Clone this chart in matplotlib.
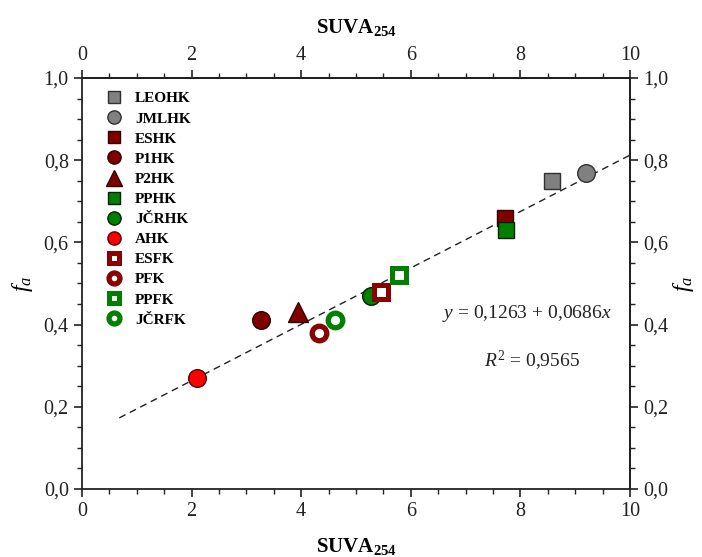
import matplotlib
matplotlib.use("Agg")
import matplotlib.pyplot as plt
from matplotlib.ticker import MultipleLocator, FuncFormatter
import numpy as np

plt.rcParams['font.family'] = ['Liberation Serif', 'DejaVu Serif']
plt.rcParams['mathtext.fontset'] = 'custom'
plt.rcParams['mathtext.rm'] = 'Liberation Serif'
plt.rcParams['mathtext.it'] = 'Liberation Serif:italic'
plt.rcParams['mathtext.bf'] = 'Liberation Serif:bold'

# Data
names = ['LEOHK', 'JMLHK', 'ESHK', 'P1HK', 'P2HK', 'PPHK', 'JČRHK', 'AHK',
         'ESFK', 'PFK', 'PPFK', 'JČRFK']
suva = [8.57, 9.20, 7.72, 3.26, 3.95, 7.74, 5.27, 2.10, 5.45, 4.32, 5.79, 4.62]
fa = [0.75, 0.77, 0.66, 0.41, 0.43, 0.63, 0.47, 0.27, 0.48, 0.38, 0.52, 0.41]

fit_intercept = 0.1263
fit_slope = 0.0686
fit_x_range = [0.68, 10.0]

styles = [
    dict(marker='s', mfc='#808080', mec='#303030', ms=11, mew=1.0),
    dict(marker='o', mfc='#808080', mec='#303030', ms=12.7, mew=1.0),
    dict(marker='s', mfc='#800000', mec='#300000', ms=11, mew=1.0),
    dict(marker='o', mfc='#800000', mec='#300000', ms=12.7, mew=1.0),
    dict(marker='^', mfc='#800000', mec='#300000', ms=15, mew=1.0),
    dict(marker='s', mfc='#008000', mec='#002000', ms=11, mew=1.0),
    dict(marker='o', mfc='#008000', mec='#002000', ms=12.7, mew=1.0),
    dict(marker='o', mfc='#ff0000', mec='#600000', ms=12.7, mew=1.0),
    dict(marker='s', mfc='white', mec='#8b0000', ms=9.5, mew=3.6),
    dict(marker='o', mfc='white', mec='#8b0000', ms=10.5, mew=3.8),
    dict(marker='s', mfc='white', mec='#008000', ms=9.5, mew=3.6),
    dict(marker='o', mfc='white', mec='#008000', ms=10.5, mew=3.8),
]

fig = plt.figure(figsize=(7.02, 5.57), dpi=100)
ax = fig.add_axes([0.1168, 0.1221, 0.7806, 0.7379])

xs = np.array(fit_x_range)
ax.plot(xs, fit_intercept + fit_slope * xs, color='#202020', lw=1.0,
        ls=(0, (5, 3.5)), zorder=1)

handles = []
for n, x, y, st in zip(names, suva, fa, styles):
    h, = ax.plot([x], [y], ls='none', label=n, zorder=3, **st)
    handles.append(h)

ax.set_xlim(0, 10)
ax.set_ylim(0, 1.0)
ax.xaxis.set_major_locator(MultipleLocator(2))
ax.xaxis.set_minor_locator(MultipleLocator(0.5))
ax.yaxis.set_major_locator(MultipleLocator(0.2))
ax.yaxis.set_minor_locator(MultipleLocator(0.05))
yfmt = FuncFormatter(lambda v, p: f'{v:.1f}'.replace('.', ','))
xfmt = FuncFormatter(lambda v, p: f'{v:.0f}')
ax.yaxis.set_major_formatter(yfmt)
ax.xaxis.set_major_formatter(xfmt)

for sp in ax.spines.values():
    sp.set_linewidth(1.3)
    sp.set_color('#222222')

tp = dict(direction='out', labelsize=14.5, colors='#222222', width=1.2)
ax.tick_params(which='major', length=6, **tp)
ax.tick_params(which='minor', length=3.5, direction='out', width=1.0, colors='#222222')

secx = ax.secondary_xaxis('top')
secx.xaxis.set_major_locator(MultipleLocator(2))
secx.xaxis.set_minor_locator(MultipleLocator(0.5))
secx.xaxis.set_major_formatter(xfmt)
secx.tick_params(which='major', length=6, **tp)
secx.tick_params(which='minor', length=3.5, direction='out', width=1.0, colors='#222222')
secx.spines['top'].set_linewidth(1.3)

secy = ax.secondary_yaxis('right')
secy.yaxis.set_major_locator(MultipleLocator(0.2))
secy.yaxis.set_minor_locator(MultipleLocator(0.05))
secy.yaxis.set_major_formatter(yfmt)
secy.tick_params(which='major', length=6, **tp)
secy.tick_params(which='minor', length=3.5, direction='out', width=1.0, colors='#222222')
secy.spines['right'].set_linewidth(1.3)

xlab = r'$\mathbf{SUVA_{254}}$'
ax.set_xlabel(xlab, fontsize=15, labelpad=11)
secx.set_xlabel(xlab, fontsize=15, labelpad=9)
ax.set_ylabel(r'$f_a$', fontsize=17, labelpad=6)
secy.set_ylabel(r'$f_a$', fontsize=17, labelpad=2)

ax.text(8.12, 0.428, r'$y$ = 0,1263 + 0,0686$x$', fontsize=14,
        ha='center', va='center', color='#222222')
ax.text(8.21, 0.312, r'$R^2$ = 0,9565', fontsize=14,
        ha='center', va='center', color='#222222')

leg = ax.legend(handles=handles, loc='upper left', frameon=False,
                prop=dict(family='Liberation Serif', weight='bold', size=11),
                markerscale=0.75, handlelength=1.2, handletextpad=0.8,
                labelspacing=0.42, borderaxespad=0.5,
                bbox_to_anchor=(0.016, 1.0))

fig.savefig('out.png', dpi=100)
